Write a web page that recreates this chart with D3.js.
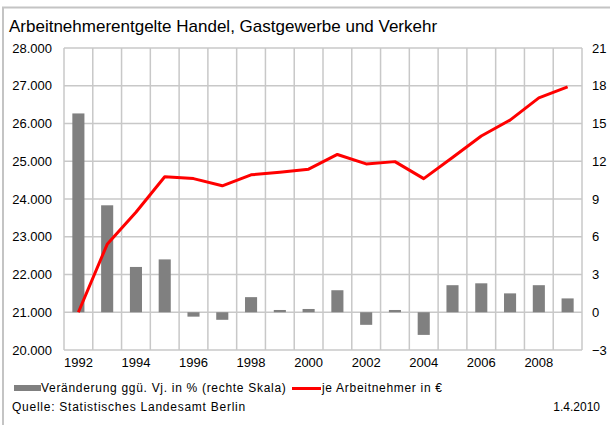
<!DOCTYPE html>
<html>
<head>
<meta charset="utf-8">
<script src="https://cdnjs.cloudflare.com/ajax/libs/d3/7.8.5/d3.min.js"></script>
<style>
  html, body { margin: 0; padding: 0; background: #fff; }
  svg { display: block; }
  text { font-family: Arial, "Liberation Sans", sans-serif; fill: #000; }
</style>
</head>
<body>
<svg id="chart" width="610" height="425"></svg>
<script>
// Jahre
const years = [1992, 1993, 1994, 1995, 1996, 1997, 1998, 1999, 2000,
               2001, 2002, 2003, 2004, 2005, 2006, 2007, 2008, 2009];
// Arbeitnehmerentgelt je Arbeitnehmer in € (linke Skala)
const perEmployee = [21000, 22800, 23650, 24590, 24540, 24350, 24640, 24710, 24790,
                     25180, 24930, 24990, 24540, 25100, 25670, 26090, 26680, 26970];
// Veränderung ggü. Vorjahr in % (rechte Skala)
const changePct = [15.8, 8.5, 3.6, 4.2, -0.35, -0.6, 1.2, 0.18, 0.26,
                   1.75, -1.0, 0.18, -1.8, 2.15, 2.3, 1.5, 2.15, 1.1];
// Achsenbeschriftungen
const leftTicks = [20000, 21000, 22000, 23000, 24000, 25000, 26000, 27000, 28000];
const rightTicks = [-3, 0, 3, 6, 9, 12, 15, 18, 21];
const xLabelYears = [1992, 1994, 1996, 1998, 2000, 2002, 2004, 2006, 2008];

const title = "Arbeitnehmerentgelte Handel, Gastgewerbe und Verkehr";
const legendBars = "Veränderung ggü. Vj. in % (rechte Skala)";
const legendLine = "je Arbeitnehmer in €";
const source = "Quelle: Statistisches Landesamt Berlin";
const dateText = "1.4.2010";

const svg = d3.select("#chart");
const plot = { left: 64, right: 582, top: 48, bottom: 350 };
const gridColor = "#c8c8c8";

const de = d3.formatLocale({ decimal: ",", thousands: ".", grouping: [3], currency: ["", " €"] });
const fmtThousands = de.format(",.0f");

const x = d3.scaleBand().domain(years).range([plot.left, plot.right]).padding(0);
const yL = d3.scaleLinear().domain([20000, 28000]).range([plot.bottom, plot.top]);
const yR = d3.scaleLinear().domain([-3, 21]).range([plot.bottom, plot.top]);

// Rahmen
svg.append("path")
  .attr("d", "M3,425 V7.5 H610")
  .attr("fill", "none")
  .attr("stroke", "#c4c4c4")
  .attr("stroke-width", 2);

// Titel
svg.append("text")
  .attr("x", 9).attr("y", 32)
  .attr("font-size", 17)
  .text(title);

// Gitternetz horizontal
svg.append("g")
  .selectAll("line")
  .data(leftTicks)
  .join("line")
  .attr("x1", plot.left).attr("x2", plot.right)
  .attr("y1", d => yL(d)).attr("y2", d => yL(d))
  .attr("stroke", gridColor).attr("stroke-width", 1.5);

// Gitternetz vertikal (Kategoriegrenzen)
const bounds = years.map(d => x(d)).concat([plot.right]);
svg.append("g")
  .selectAll("line")
  .data(bounds)
  .join("line")
  .attr("x1", d => d).attr("x2", d => d)
  .attr("y1", plot.top).attr("y2", plot.bottom)
  .attr("stroke", gridColor).attr("stroke-width", 1.5);

// Säulen
const barW = x.bandwidth() * 0.42;
svg.append("g")
  .selectAll("rect")
  .data(years.map((yr, i) => ({ yr, v: changePct[i] })))
  .join("rect")
  .attr("x", d => x(d.yr) + (x.bandwidth() - barW) / 2)
  .attr("width", barW)
  .attr("y", d => yR(Math.max(0, d.v)))
  .attr("height", d => Math.abs(yR(d.v) - yR(0)))
  .attr("fill", "#808080");

// Linie
const line = d3.line()
  .x((d, i) => x(years[i]) + x.bandwidth() / 2)
  .y(d => yL(d));
svg.append("path")
  .datum(perEmployee)
  .attr("d", line)
  .attr("fill", "none")
  .attr("stroke", "#ff0000")
  .attr("stroke-width", 3)
  .attr("stroke-linejoin", "round");

// Linke Achse
const axL = svg.append("g")
  .attr("transform", `translate(${plot.left},0)`)
  .call(d3.axisLeft(yL).tickValues(leftTicks).tickFormat(fmtThousands).tickSize(0).tickPadding(12));
axL.select(".domain").remove();
axL.selectAll("text").attr("font-size", 13).attr("font-family", "Arial, 'Liberation Sans', sans-serif");

// Rechte Achse
const axR = svg.append("g")
  .attr("transform", `translate(${plot.right},0)`)
  .call(d3.axisRight(yR).tickValues(rightTicks).tickFormat(d3.format("d")).tickSize(0).tickPadding(10));
axR.select(".domain").remove();
axR.selectAll("text").attr("font-size", 13).attr("font-family", "Arial, 'Liberation Sans', sans-serif");

// X-Achse
const axX = svg.append("g")
  .attr("transform", `translate(0,${plot.bottom})`)
  .call(d3.axisBottom(x).tickValues(xLabelYears).tickSize(0).tickPadding(8));
axX.select(".domain").remove();
axX.selectAll("text").attr("font-size", 13).attr("font-family", "Arial, 'Liberation Sans', sans-serif");

// Legende
const lg = svg.append("g");
lg.append("rect").attr("x", 14).attr("y", 385).attr("width", 27).attr("height", 6).attr("fill", "#808080");
lg.append("text").attr("x", 41).attr("y", 392).attr("font-size", 12)
  .attr("letter-spacing", 0.7).text(legendBars);
lg.append("line").attr("x1", 292).attr("x2", 321).attr("y1", 388.5).attr("y2", 388.5)
  .attr("stroke", "#ff0000").attr("stroke-width", 3);
lg.append("text").attr("x", 322).attr("y", 392).attr("font-size", 12)
  .attr("letter-spacing", 0.7).text(legendLine);

// Quelle und Datum
svg.append("text").attr("x", 12).attr("y", 411).attr("font-size", 12)
  .attr("letter-spacing", 0.75).text(source);
svg.append("text").attr("x", 600).attr("y", 411).attr("font-size", 12)
  .attr("text-anchor", "end").text(dateText);
</script>
</body>
</html>
